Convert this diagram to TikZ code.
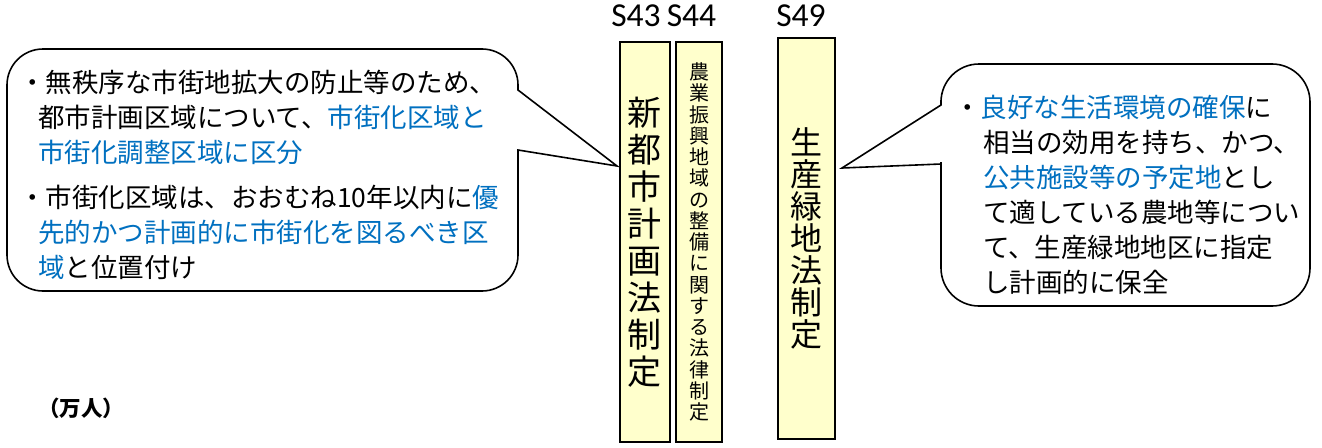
\documentclass[tikz,border=0pt]{standalone}
\usepackage{fontspec}
\newfontfamily\jp{Noto Sans CJK JP}
\newfontfamily\carl{Carlito}
\definecolor{jblue}{HTML}{0070C0}
\definecolor{lyellow}{HTML}{FFFFCC}
\begin{document}
\begin{tikzpicture}[x=1pt,y=-1pt,
  bubble/.style={draw=black,line width=1.6pt,fill=white},
  law/.style={draw=black,line width=2pt,fill=lyellow,inner sep=0pt,align=center},
  txt/.style={font=\jp\fontsize{26.5}{30}\selectfont,anchor=base west,inner sep=0pt},
  yr/.style={font=\carl\fontsize{33.5}{33.5}\selectfont,inner sep=0pt}]
\useasboundingbox (0,0) rectangle (1322,447);
% callouts
\draw[bubble,rounded corners=36pt] (260,49) -- (7,49) -- (7,291) -- (518,291) -- (518,200) [sharp corners] -- (518,150) -- (617,166) -- (518,90) -- (518,85) [rounded corners=36pt] -- (518,49) -- cycle;
\draw[bubble,rounded corners=38pt] (1120,64) -- (1310,64) -- (1310,306) -- (941,306) -- (941,200) [sharp corners] -- (941,164) -- (842,168) -- (941,105) -- (941,100) [rounded corners=38pt] -- (941,64) -- cycle;
% year labels
\node[yr] (s43) at (636,16) {S43};
\node[yr] (s44) at (691.5,16) {S44};
\node[yr] (s49) at (801,16) {S49};
% law boxes
\node[law,minimum width=50pt,minimum height=400pt,font=\jp\fontsize{34}{37}\selectfont] (b1) at (644.5,242) {新\\都\\市\\計\\画\\法\\制\\定};
\node[law,minimum width=46pt,minimum height=400pt,font=\jp\fontsize{20}{21.25}\selectfont] (b2) at (699,242) {農\\業\\振\\興\\地\\域\\の\\整\\備\\に\\関\\す\\る\\法\\律\\制\\定};
\node[law,minimum width=57pt,minimum height=401pt,font=\jp\fontsize{32}{32}\selectfont] (b3) at (806,238.5) {生\\産\\緑\\地\\法\\制\\定};
% left text
\node[txt] (l1) at (19,92) {・無秩序な市街地拡大の防止等のため、};
\node[txt] (l2) at (38,127) {都市計画区域について、{\color{jblue}市街化区域と}};
\node[txt] (l3) at (38,162) {{\color{jblue}市街化調整区域に区分}};
\node[txt] (l4) at (19,207) {・市街化区域は、おおむね10年以内に{\color{jblue}優}};
\node[txt] (l5) at (38,242) {{\color{jblue}先的かつ計画的に市街化を図るべき区}};
\node[txt] (l6) at (38,277) {{\color{jblue}域}と位置付け};
% right text
\node[txt] (r1) at (954,117) {・{\color{jblue}良好な生活環境の確保}に};
\node[txt] (r2) at (983,152) {相当の効用を持ち、かつ、};
\node[txt] (r3) at (983,187) {{\color{jblue}公共施設等の予定地}とし};
\node[txt] (r4) at (983,222) {て適している農地等につい};
\node[txt] (r5) at (983,257) {て、生産緑地地区に指定};
\node[txt] (r6) at (983,292) {し計画的に保全};
% unit
\node[txt,font=\jp\bfseries\fontsize{21.5}{24}\selectfont] (unit) at (38,416) {（万人）};
\end{tikzpicture}
\end{document}
